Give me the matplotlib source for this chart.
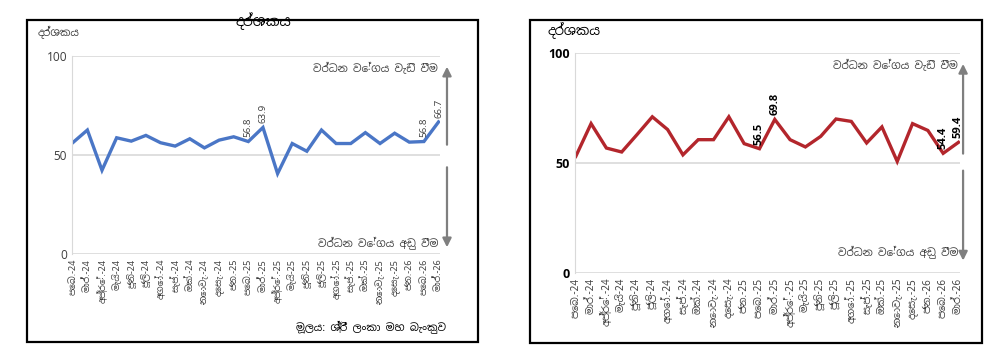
import matplotlib
matplotlib.use("Agg")
import matplotlib.pyplot as plt
from matplotlib import font_manager
from matplotlib.patches import Rectangle
import matplotlib.transforms as mtransforms

# pick a font with Sinhala glyphs if one is installed
names = {f.name for f in font_manager.fontManager.ttflist}
sinhala = sorted(n for n in names if 'Sinhala' in n or 'Iskoola' in n)
plt.rcParams['font.family'] = sinhala[:1] + ['DejaVu Sans']

months = ["පෙබ.", "මාර්.", "අප්‍රේ.", "මැයි", "ජූනි", "ජූලි", "අගෝ.", "සැප්.",
          "ඔක්.", "නොවැ.", "දෙසැ.", "ජන.", "පෙබ.", "මාර්.", "අප්‍රේ.", "මැයි",
          "ජූනි", "ජූලි", "අගෝ.", "සැප්.", "ඔක්.", "නොවැ.", "දෙසැ.", "ජන.",
          "පෙබ.", "මාර්."]
years = ["24"] * 11 + ["25"] * 12 + ["26"] * 3
labels = [f"{m}-{y}" for m, y in zip(months, years)]

# left panel index
left_vals = [56.2, 62.6, 42.3, 58.7, 57.0, 59.9, 56.2, 54.5, 58.2, 53.6, 57.5, 59.2,
             56.8, 63.9, 40.6, 55.8, 51.9, 62.6, 55.8, 55.8, 61.3, 55.8, 61.0, 56.5,
             56.8, 66.7]
left_marked = [12, 13, 24, 25]

# right panel index
right_vals = [53.0, 67.9, 56.8, 55.0, 62.9, 71.0, 65.2, 53.7, 60.6, 60.6, 71.0, 58.8,
              56.5, 69.8, 60.6, 57.3, 62.1, 70.0, 68.9, 59.1, 66.4, 50.7, 67.9, 64.8,
              54.4, 59.4]
right_marked = [12, 13, 24, 25]

title = "දර්ශකය"
ylab = "දර්ශකය"
up_txt = "වර්ධන වේගය වැඩි වීම"
down_txt = "වර්ධන වේගය අඩු වීම"
source = "මූලය: ශ්‍රී ලංකා මහ බැංකුව"

W, H = 1000, 361
fig = plt.figure(figsize=(10, 3.61), dpi=100)


def px(x0, y0, x1, y1):
    return [x0 / W, 1 - y1 / H, (x1 - x0) / W, (y1 - y0) / H]


# panel frames
for x0, y0, x1, y1 in [(27, 20, 478, 342), (530, 20, 982, 343)]:
    fig.patches.append(Rectangle((x0 / W, 1 - y1 / H), (x1 - x0) / W, (y1 - y0) / H,
                                 transform=fig.transFigure, fill=False,
                                 edgecolor='black', lw=1.6))


def panel(rect, vals, marked, color, lab_kw, tick_kw, xtick_fs, arrow_y, text_y):
    ax = fig.add_axes(rect)
    xs = list(range(len(vals)))
    ax.plot(xs, vals, color=color, lw=2.4, solid_joinstyle='miter')
    ax.set_xlim(-0.05, len(vals) - 0.9)
    ax.set_ylim(0, 100)
    ax.set_yticks([0, 50, 100], labels=["0", "50", "100"], **tick_kw)
    ax.grid(axis='y', color='#d9d9d9', lw=1.2)
    ax.set_axisbelow(True)
    for s in ['top', 'right', 'bottom']:
        ax.spines[s].set_visible(False)
    ax.spines['left'].set_color('#d9d9d9')
    ax.tick_params(length=0)
    ax.set_xticks(xs)
    ax.set_xticklabels(labels, rotation=90, fontsize=xtick_fs, color='#404040')
    for i in marked:
        ax.annotate(f"{vals[i]:.1f}", (i, vals[i]), xytext=(0, 3),
                    textcoords='offset points', rotation=90,
                    ha='center', va='bottom', **lab_kw)
    tr = mtransforms.blended_transform_factory(ax.transAxes, ax.transData)
    ax_x, top, up_end, low_start, bot = arrow_y
    kw = dict(arrowstyle='-|>', color='#7f7f7f', lw=1.6, mutation_scale=13)
    ax.annotate("", xy=(ax_x, top), xytext=(ax_x, up_end), xycoords=tr,
                textcoords=tr, arrowprops=kw, annotation_clip=False)
    ax.annotate("", xy=(ax_x, bot), xytext=(ax_x, low_start), xycoords=tr,
                textcoords=tr, arrowprops=kw, annotation_clip=False)
    ax.text(0.995, text_y[0], up_txt, transform=tr, ha='right', va='center',
            fontsize=7.5, color='#404040')
    ax.text(0.995, text_y[1], down_txt, transform=tr, ha='right', va='center',
            fontsize=7.5, color='#404040')
    return ax


axl = panel(px(72, 56, 440, 254), left_vals, left_marked, '#4a76c6',
            dict(fontsize=7, color='#404040'),
            dict(fontsize=8.5, color='#404040'), 6.5,
            (1.019, 96, 53.8, 45.2, 2), (93.4, 5.6))
axr = panel(px(575, 53, 960, 273), right_vals, right_marked, '#b3262c',
            dict(fontsize=8, color='black', fontweight='bold', family='Open Sans'),
            dict(fontsize=9, color='black', fontweight='bold', family='Open Sans'), 7.2,
            (1.008, 96.3, 53, 47.8, 4.4), (94, 9.6))

fig.text(263 / W, 1 - 21 / H, title, ha='center', va='center', fontsize=10,
         fontweight='bold')
fig.text(38 / W, 1 - 33 / H, ylab, ha='left', va='center', fontsize=7.5,
         color='#404040')
fig.text(548 / W, 1 - 31 / H, ylab, ha='left', va='center', fontsize=9.5,
         color='black')
fig.text(446 / W, 1 - 327 / H, source, ha='right', va='center', fontsize=7.5,
         color='black')

fig.savefig("out.png", dpi=100)
